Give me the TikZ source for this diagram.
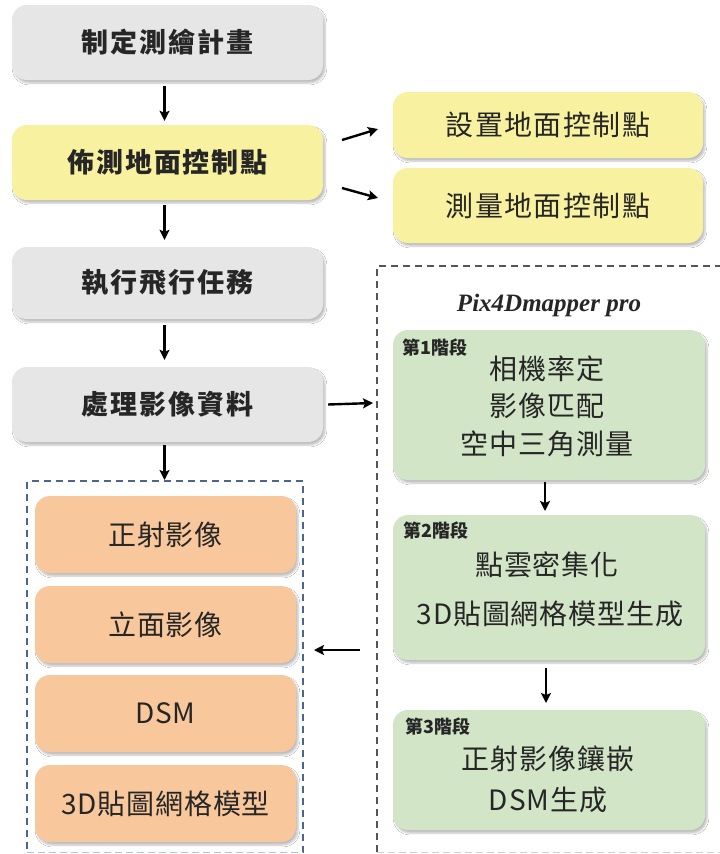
\documentclass[tikz,border=0pt]{standalone}
\usepackage{fontspec}
\setmainfont{Liberation Serif}
\newfontfamily\cjk{Noto Sans CJK TC}
\usetikzlibrary{arrows.meta,shadows.blur}
\definecolor{boxgray}{HTML}{E6E6E6}
\definecolor{boxyel}{HTML}{F8F1A0}
\definecolor{boxgreen}{HTML}{D2E5C6}
\definecolor{boxorange}{HTML}{F8C79C}
\definecolor{frameblue}{HTML}{4A6690}
\definecolor{framegray}{HTML}{555555}
\definecolor{txt}{HTML}{262626}
\tikzset{
  base/.style={rounded corners=15pt, inner sep=0pt, text=txt,
    blur shadow={shadow xshift=2pt, shadow yshift=-3pt, shadow blur steps=6, shadow opacity=25}},
  leftbox/.style={base, fill=boxgray, minimum width=311pt, minimum height=75pt,
    font={\cjk\bfseries\fontsize{27}{30}\selectfont\addfontfeature{LetterSpace=7}}},
  sidebox/.style={base, fill=boxyel, minimum width=310pt,
    font={\cjk\fontsize{28}{32}\selectfont\addfontfeature{LetterSpace=5}}},
  greenbox/.style={base, fill=boxgreen, minimum width=312pt},
  orbox/.style={base, fill=boxorange, minimum width=261pt, minimum height=77pt,
    font={\cjk\fontsize{28}{32}\selectfont\addfontfeature{LetterSpace=3}}},
  gtext/.style={inner sep=0pt, text=txt, font={\cjk\fontsize{28}{32}\selectfont\addfontfeature{LetterSpace=3}}},
  stage/.style={inner sep=0pt, anchor=west, text=txt, font={\cjk\bfseries\fontsize{18}{20}\selectfont}},
  arr/.style={line width=2.4pt, -{Stealth[length=10pt,width=10pt,inset=2pt]}},
}
\begin{document}
\begin{tikzpicture}[x=1pt,y=-1pt]
\useasboundingbox (0,0) rectangle (720,854);
\fill[white] (0,0) rectangle (720,854);
\begin{scope}
\clip (0,0) rectangle (720,854);
% frames
\draw[framegray, line width=1.3pt, dash pattern=on 7pt off 5pt] (377,852) -- (377,266) -- (725,266);
\draw[black!18, line width=1pt, dash pattern=on 7pt off 4pt] (377,852.5) -- (725,852.5);
\draw[frameblue, line width=1.2pt, dash pattern=on 7pt off 5pt] (303,852.5) -- (303,481) -- (27,481) -- (27,852.5);
\draw[frameblue!40, line width=1pt, dash pattern=on 7pt off 4pt] (27,852.5) -- (303,852.5);
\end{scope}

% left column
\node[leftbox] (plan) at (167.5,42.5) {制定測繪計畫};
\node[leftbox, fill=boxyel] (gcp) at (167.5,162.5) {佈測地面控制點};
\node[leftbox, minimum height=72pt] (fly) at (167.5,283) {執行飛行任務};
\node[leftbox] (proc) at (167.5,404.5) {處理影像資料};

% side boxes
\node[sidebox, minimum height=66pt] (set) at (548,125) {設置地面控制點};
\node[sidebox, minimum height=75pt] (meas) at (548,205.5) {測量地面控制點};

% orange outputs
\node[orbox] (ortho) at (165.5,534.5) {正射影像};
\node[orbox] (elev) at (165.5,624.5) {立面影像};
\node[orbox] (dsm) at (165.5,713.5) {DSM};
\node[orbox] (mesh) at (165.5,803.5) {3D貼圖網格模型};

% Pix4D
\node[inner sep=0pt, font={\bfseries\itshape\fontsize{25}{28}\selectfont}, text=txt] (pix) at (549,305) {Pix4Dmapper pro};

\node[greenbox, minimum height=150pt] (g1) at (549,405) {};
\node[stage] (s1) at (402,348) {第1階段};
\node[gtext] (g1a) at (547,369) {相機率定};
\node[gtext] (g1b) at (547,406) {影像匹配};
\node[gtext] (g1c) at (547,444) {空中三角測量};

\node[greenbox, minimum height=145pt] (g2) at (549,587.5) {};
\node[stage] (s2) at (403,531) {第2階段};
\node[gtext] (g2a) at (547,565) {點雲密集化};
\node[gtext] (g2b) at (550,614) {3D貼圖網格模型生成};

\node[greenbox, minimum height=120pt] (g3) at (549,770) {};
\node[stage] (s3) at (405,727) {第3階段};
\node[gtext] (g3a) at (548,759) {正射影像鑲嵌};
\node[gtext] (g3b) at (548,800) {DSM生成};

% arrows
\draw[arr] ([xshift=-3pt,yshift=-6pt]plan.south) -- ([xshift=-3pt,yshift=4pt]gcp.north);
\draw[arr] ([xshift=-3pt,yshift=-5pt]gcp.south) -- ([xshift=-3pt,yshift=7pt]fly.north);
\draw[arr] ([xshift=-3pt,yshift=-6pt]fly.south) -- ([xshift=-3pt,yshift=7pt]proc.north);
\draw[arr] ([xshift=-3pt,yshift=-3pt]proc.south) -- (164.5,480);

\coordinate (b1s) at (342,140);
\coordinate (b1e) at (378,129);
\coordinate (b2s) at (342,188);
\coordinate (b2e) at (378,198);
\draw[arr] (b1s) -- (b1e);
\draw[arr] (b2s) -- (b2e);

\coordinate (pe) at (373,403);
\draw[arr] ([xshift=5pt]proc.east) -- (pe);

\draw[arr] ([xshift=-4pt,yshift=-2pt]g1.south) -- (545,511);
\draw[arr] (546,668) -- (546,703);

\coordinate (ls) at (360,650);
\coordinate (le) at (314,650);
\draw[arr] (ls) -- (le);
\end{tikzpicture}
\end{document}
